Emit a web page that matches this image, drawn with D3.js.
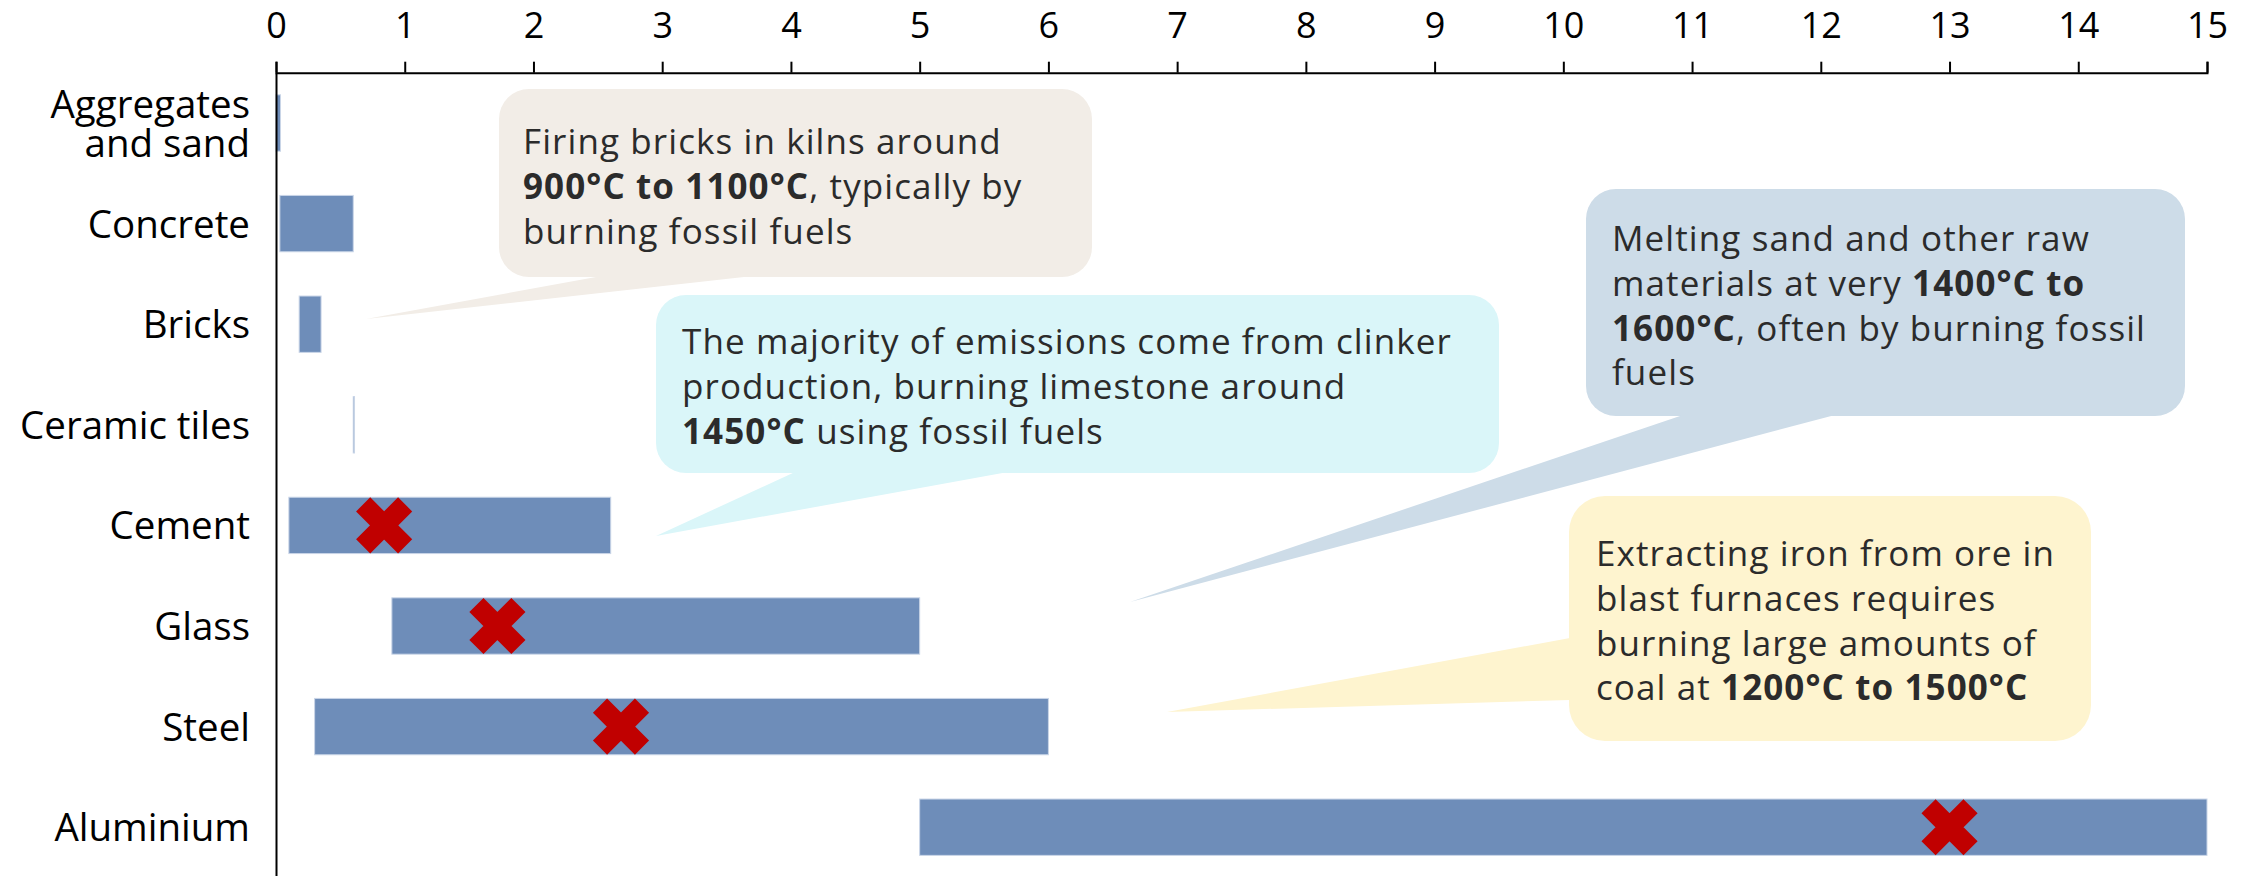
<!DOCTYPE html>
<html><head><meta charset="utf-8">
<script src="https://cdn.jsdelivr.net/npm/d3@7"></script>
<style>html,body{margin:0;padding:0;background:#fff;} svg{display:block;}</style>
</head><body><svg id="chart" width="2248" height="876"></svg>
<script>
// ---- data ----
const categories = ["Aggregates and sand","Concrete","Bricks","Ceramic tiles","Cement","Glass","Steel","Aluminium"];
const categoryLabelLines = [["Aggregates","and sand"],["Concrete"],["Bricks"],["Ceramic tiles"],["Cement"],["Glass"],["Steel"],["Aluminium"]];
const rangeStart = [0, 0.03, 0.18, 0.6, 0.1, 0.9, 0.3, 5.0];
const rangeEnd   = [0.035, 0.6, 0.35, 0.61, 2.6, 5.0, 6.0, 15.0];
const markerValue = [null, null, null, null, 0.84, 1.72, 2.68, 13.0];
const xTickValues = [0,1,2,3,4,5,6,7,8,9,10,11,12,13,14,15];

const calloutTexts = [
  [[["Firing bricks in kilns around",false]],[["900°C to 1100°C",true],[", typically by",false]],[["burning fossil fuels",false]]],
  [[["The majority of emissions come from clinker",false]],[["production, burning limestone around",false]],[["1450°C",true],[" using fossil fuels",false]]],
  [[["Melting sand and other raw",false]],[["materials at very ",false],["1400°C to",true]],[["1600°C",true],[", often by burning fossil",false]],[["fuels",false]]],
  [[["Extracting iron from ore in",false]],[["blast furnaces requires",false]],[["burning large amounts of",false]],[["coal at ",false],["1200°C to 1500°C",true]]]
];

// ---- layout ----
const FONT = "'Open Sans', Lato, sans-serif";
const calloutLayout = [
  {fill:"#F2EDE7", box:[499,89,1092,277], r:30, tail:[[596,277],[744,277],[366,319]], tx:523, ty:154},
  {fill:"#DAF6F9", box:[656,295,1499,473], r:30, tail:[[795,472],[1008,472],[656,536]], tx:682, ty:354},
  {fill:"#CDDCE8", box:[1586,189,2185,416], r:30, tail:[[1683,415],[1835,415],[1130,602]], tx:1612, ty:251},
  {fill:"#FEF4CF", box:[1569,496,2091,741], r:36, tail:[[1570,638],[1570,700],[1167,712]], tx:1596, ty:566}
];
const lineGap = 44.8;

const svg = d3.select("#chart");
const x = d3.scaleLinear().domain([0,15]).range([276,2207]);
const y = d3.scaleBand().domain(categories).range([72.7,877.5]).paddingInner(0.44).paddingOuter(0.22);

// callouts
const cg = svg.append("g");
calloutLayout.forEach((c,i)=>{
  const g = cg.append("g");
  g.append("rect").attr("x",c.box[0]).attr("y",c.box[1]).attr("width",c.box[2]-c.box[0]).attr("height",c.box[3]-c.box[1])
    .attr("rx",c.r).attr("ry",c.r).attr("fill",c.fill);
  g.append("path").attr("d","M"+c.tail.map(p=>p.join(",")).join("L")+"Z").attr("fill",c.fill);
  const t = g.append("text").attr("font-family",FONT).attr("font-size",35).attr("letter-spacing",1.1)
    .attr("fill","#2b2b2b").style("white-space","pre");
  calloutTexts[i].forEach((line,li)=>{
    line.forEach((seg,si)=>{
      const ts = t.append("tspan").text(seg[0]).attr("font-weight",seg[1]?"bold":"normal");
      if(si===0) ts.attr("x",c.tx).attr("y",c.ty+li*lineGap);
    });
  });
});

// bars
const rows = categories.map((c,i)=>({c, s:rangeStart[i], e:rangeEnd[i], m:markerValue[i]}));
svg.append("g").selectAll("rect").data(rows).join("rect")
  .attr("x",d=>x(d.s)).attr("y",d=>y(d.c))
  .attr("width",d=>Math.max(1,x(d.e)-x(d.s))).attr("height",y.bandwidth())
  .attr("fill","#6E8DB9").attr("stroke","#c9d5e7").attr("stroke-width",1);

// markers
svg.append("g").selectAll("path").data(rows.filter(d=>d.m!=null)).join("path")
  .attr("transform",d=>`translate(${x(d.m)},${y(d.c)+y.bandwidth()/2})`)
  .attr("d","M-21,-21L21,21M21,-21L-21,21")
  .attr("stroke","#C00000").attr("stroke-width",20).attr("stroke-linecap","butt").attr("fill","none");

// axes
const xAxis = d3.axisTop(x).tickValues(xTickValues).tickSize(11).tickSizeOuter(11).tickPadding(24).tickFormat(d3.format("d"));
const gx = svg.append("g").attr("transform","translate(0,72.7)").call(xAxis);
gx.selectAll("path,line").attr("stroke","#000").attr("stroke-width",2);
gx.selectAll("text").attr("font-family",FONT).attr("font-size",36).attr("fill","#000");

const gy = svg.append("g").attr("transform","translate(276,0)").call(d3.axisLeft(y).tickSize(0).tickSizeOuter(0).tickFormat(""));
gy.select("path").attr("stroke","#000").attr("stroke-width",2);

// category labels
const lab = svg.append("g").attr("font-family",FONT).attr("font-size",38.5).attr("fill","#000").attr("text-anchor","end");
rows.forEach((d,i)=>{
  const lines = categoryLabelLines[i];
  const cy = y(d.c)+y.bandwidth()/2;
  const gap = 39;
  lines.forEach((ln,li)=>{
    lab.append("text").attr("x",250).attr("y",cy + 14 + (li-(lines.length-1)/2)*gap).text(ln);
  });
});
</script></body></html>
